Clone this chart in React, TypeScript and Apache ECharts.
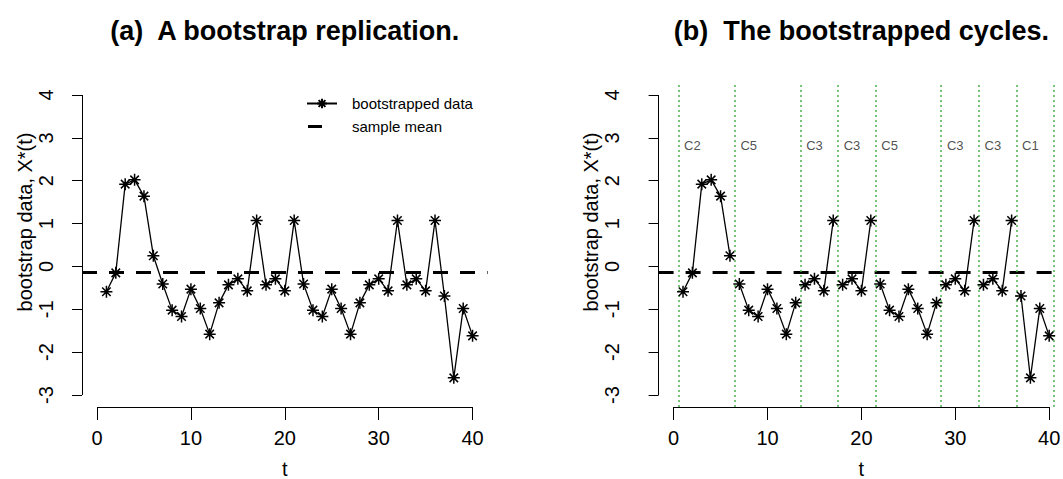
import React, { useEffect, useRef } from "react";
import * as echarts from "echarts";

// ---- data ----
const T = [1, 2, 3, 4, 5, 6, 7, 8, 9, 10, 11, 12, 13, 14, 15, 16, 17, 18, 19, 20,
  21, 22, 23, 24, 25, 26, 27, 28, 29, 30, 31, 32, 33, 34, 35, 36, 37, 38, 39, 40];
const VALUES = [
  -0.59, -0.15, 1.92, 2.02, 1.64, 0.25,
  -0.41, -1.02, -1.17, -0.53, -0.98, -1.58, -0.85,
  -0.43, -0.29, -0.57, 1.07,
  -0.43, -0.29, -0.57, 1.07,
  -0.41, -1.02, -1.17, -0.53, -0.98, -1.58, -0.85,
  -0.43, -0.29, -0.57, 1.07,
  -0.43, -0.29, -0.57, 1.07,
  -0.69, -2.6, -0.98, -1.62,
];
const CYCLE_LABELS = ["C2", "C5", "C3", "C3", "C5", "C3", "C3", "C1"];
const CYCLE_LENGTHS = [6, 7, 4, 4, 7, 4, 4, 4];
const SAMPLE_MEAN = -0.14;
const CYCLE_LABEL_Y = 2.83;
const X_TICKS = [0, 10, 20, 30, 40];
const Y_TICKS = [-3, -2, -1, 0, 1, 2, 3, 4];

const X_MIN = -1.6;
const X_MAX = 41.6;
const Y_MIN = -3.28;
const Y_MAX = 4.28;

const FONT = "'Liberation Sans', Arial, sans-serif";
const STAR = "path://M5,0L5,10M0,5L10,5M1.46,1.46L8.54,8.54M1.46,8.54L8.54,1.46";

export default function App() {
  const ref = useRef<HTMLDivElement>(null);
  useEffect(() => {
    const chart = echarts.init(ref.current!, null, { renderer: "svg" });

    const grids = [
      { left: 82, top: 83, width: 405.6, height: 324, outerBoundsMode: "none", containLabel: false },
      { left: 658.6, top: 83, width: 405.6, height: 324, outerBoundsMode: "none", containLabel: false },
    ];
    const yLabelMargin = [26, 37];
    const yNameGap = [45, 48];

    const xAxis = grids.map((_, i) => ({
      type: "value",
      gridIndex: i,
      min: X_MIN,
      max: X_MAX,
      axisLine: { show: false, onZero: false },
      splitLine: { show: false },
      axisTick: { show: true, customValues: X_TICKS, length: 13, lineStyle: { color: "#000", width: 1 } },
      axisLabel: { customValues: X_TICKS, fontSize: 20, color: "#000", fontFamily: FONT, margin: 21 },
      name: "t",
      nameLocation: "middle",
      nameGap: 52,
      nameTextStyle: { fontSize: 20, color: "#000", fontFamily: FONT },
    }));
    const yAxis = grids.map((_, i) => ({
      type: "value",
      gridIndex: i,
      min: Y_MIN,
      max: Y_MAX,
      axisLine: { show: false, onZero: false },
      splitLine: { show: false },
      axisTick: { show: true, customValues: Y_TICKS, length: 10, lineStyle: { color: "#000", width: 1 } },
      axisLabel: { customValues: Y_TICKS, fontSize: 20, color: "#000", fontFamily: FONT, rotate: 90, margin: yLabelMargin[i] },
      name: "bootstrap data, X*(t)",
      nameLocation: "middle",
      nameRotate: 90,
      nameGap: yNameGap[i],
      nameTextStyle: { fontSize: 20, color: "#000", fontFamily: FONT, padding: [0, 0, 0, 46] },
    }));

    const series: any[] = [];
    const axisLineStyle = { color: "#000", width: 1, type: "solid" };
    grids.forEach((_, i) => {
      // R-style axis lines, spanning first to last tick
      series.push({
        type: "line", xAxisIndex: i, yAxisIndex: i, data: [], silent: true,
        markLine: {
          silent: true, symbol: "none", label: { show: false }, lineStyle: axisLineStyle,
          data: [
            [{ coord: [X_TICKS[0], Y_MIN] }, { coord: [X_TICKS[X_TICKS.length - 1], Y_MIN] }],
            [{ coord: [X_MIN, Y_TICKS[0]] }, { coord: [X_MIN, Y_TICKS[Y_TICKS.length - 1]] }],
          ],
        },
      });
      series.push({
        name: "sample mean", type: "line", xAxisIndex: i, yAxisIndex: i, data: [],
        itemStyle: { color: "#000" },
        lineStyle: { color: "#000", width: 3, type: [15, 12] },
        markLine: {
          silent: true, symbol: "none", label: { show: false },
          lineStyle: { color: "#000", width: 3, type: [15, 12] },
          data: [{ yAxis: SAMPLE_MEAN }],
        },
      });
    });

    const pointStyle = {
      type: "line",
      symbol: STAR,
      symbolSize: 12,
      showAllSymbol: true,
      itemStyle: { color: "transparent", borderColor: "#000", borderWidth: 1.5 },
      lineStyle: { color: "#000", width: 1.3 },
      z: 5,
    };

    // (a) full series
    series.push({
      ...pointStyle,
      name: "bootstrapped data",
      xAxisIndex: 0, yAxisIndex: 0,
      data: T.map((t, i) => [t, VALUES[i]]),
    });

    // (b) per cycle
    const starts: number[] = [];
    let acc = 0;
    CYCLE_LENGTHS.forEach((len) => { starts.push(acc); acc += len; });
    const boundaries = [...starts.map((s) => s + 0.5), acc + 0.5];

    CYCLE_LENGTHS.forEach((len, k) => {
      const idx = Array.from({ length: len }, (_, j) => starts[k] + j);
      const s: any = {
        ...pointStyle,
        name: "cycle " + (k + 1),
        xAxisIndex: 1, yAxisIndex: 1,
        data: idx.map((i) => [T[i], VALUES[i]]),
      };
      if (k === 0) {
        s.markLine = {
          silent: true, symbol: "none", label: { show: false },
          lineStyle: { color: "#4cb24c", width: 1.5, type: [2, 3] },
          data: boundaries.map((b) => ({ xAxis: b })),
        };
      }
      series.push(s);
    });

    series.push({
      type: "scatter", xAxisIndex: 1, yAxisIndex: 1, silent: true,
      symbolSize: 1, itemStyle: { color: "transparent" },
      label: { show: true, position: "inside", formatter: "{b}", fontSize: 13, color: "#222", fontFamily: FONT },
      data: CYCLE_LABELS.map((c, k) => ({ name: c, value: [boundaries[k] + 1.5, CYCLE_LABEL_Y] })),
    });

    const option: any = {
      animation: false,
      backgroundColor: "#fff",
      grid: grids,
      xAxis,
      yAxis,
      legend: [
        {
          data: ["bootstrapped data"], left: 306, top: 96, itemWidth: 30, itemHeight: 12,
          selectedMode: false, padding: 0,
          textStyle: { fontSize: 15, color: "#000", fontFamily: FONT, padding: [0, 0, 0, 10] },
        },
        {
          data: ["sample mean"], left: 308, top: 119, itemWidth: 14, itemHeight: 3, icon: "rect",
          selectedMode: false, padding: 0,
          textStyle: { fontSize: 15, color: "#000", fontFamily: FONT, padding: [0, 0, 0, 25] },
        },
      ],
      graphic: [
        {
          type: "text", x: 284.8, y: 31,
          style: { text: "(a)  A bootstrap replication.", fontSize: 27, fontWeight: "bold", fontFamily: FONT, fill: "#000", textAlign: "center", textVerticalAlign: "middle" },
        },
        {
          type: "text", x: 861.4, y: 31,
          style: { text: "(b)  The bootstrapped cycles.", fontSize: 27, fontWeight: "bold", fontFamily: FONT, fill: "#000", textAlign: "center", textVerticalAlign: "middle" },
        },
      ],
      series,
    };
    chart.setOption(option);
    return () => chart.dispose();
  }, []);
  return (
    <div
      ref={ref}
      style={{ position: "fixed", left: 0, top: 0, width: 1063, height: 479, background: "#fff" }}
    />
  );
}
